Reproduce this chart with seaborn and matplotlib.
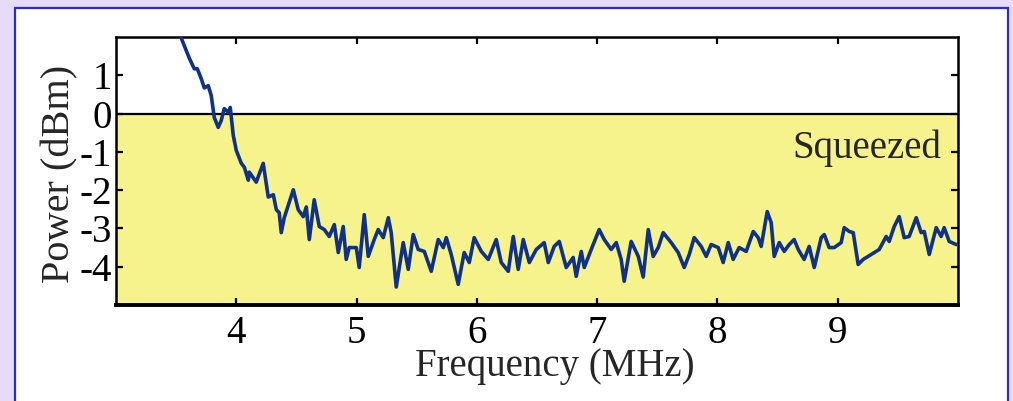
import matplotlib
matplotlib.use("Agg")
import matplotlib.pyplot as plt
from matplotlib.patches import Rectangle
import pandas as pd
import seaborn as sns

# spectrum (MHz, dBm)
freq_mhz = [
    3.52, 3.543, 3.609, 3.651, 3.676, 3.709, 3.734, 3.767, 3.792, 3.817, 3.850,
    3.875, 3.900, 3.934, 3.950, 3.975, 4.000, 4.042, 4.067, 4.100, 4.108,
    4.166, 4.224, 4.266, 4.308, 4.333, 4.357, 4.374, 4.399, 4.474, 4.515,
    4.557, 4.582, 4.607, 4.648, 4.690, 4.732, 4.773, 4.815, 4.848, 4.889,
    4.914, 4.939, 4.998, 5.022, 5.064, 5.097, 5.147, 5.180, 5.222, 5.264,
    5.288, 5.330, 5.388, 5.430, 5.471, 5.513, 5.563, 5.621, 5.679, 5.721,
    5.746, 5.787, 5.845, 5.895, 5.937, 5.978, 6.037, 6.095, 6.161, 6.203,
    6.261, 6.303, 6.344, 6.386, 6.436, 6.494, 6.560, 6.594, 6.643, 6.685,
    6.743, 6.801, 6.826, 6.868, 6.893, 6.951, 7.017, 7.059, 7.117, 7.159,
    7.200, 7.225, 7.283, 7.342, 7.383, 7.425, 7.466, 7.508, 7.549, 7.616,
    7.674, 7.724, 7.766, 7.807, 7.865, 7.907, 7.948, 8.007, 8.048, 8.090,
    8.131, 8.181, 8.239, 8.298, 8.339, 8.364, 8.414, 8.447, 8.472, 8.514,
    8.555, 8.597, 8.638, 8.672, 8.721, 8.763, 8.805, 8.863, 8.888, 8.929,
    8.971, 9.029, 9.054, 9.096, 9.129, 9.170, 9.212, 9.279, 9.345, 9.403,
    9.428, 9.470, 9.511, 9.553, 9.594, 9.653, 9.694, 9.719, 9.761, 9.819,
    9.860, 9.885, 9.927, 9.985,
]
power_dbm = [
    2.30, 1.97, 1.45, 1.17, 1.17, 0.91, 0.67, 0.73, 0.47, -0.10, -0.36,
    -0.18, 0.13, 0.03, 0.16, -0.57, -0.96, -1.30, -1.40, -1.74, -1.53,
    -1.79, -1.30, -2.18, -2.12, -2.51, -2.59, -3.11, -2.72, -1.99, -2.51,
    -2.69, -2.44, -3.29, -2.25, -2.95, -3.03, -3.21, -2.90, -3.63, -2.95,
    -3.81, -3.50, -3.50, -4.02, -2.64, -3.73, -3.29, -3.03, -3.24, -2.72,
    -3.11, -4.53, -3.37, -4.07, -3.16, -3.55, -3.60, -4.12, -3.29, -3.50,
    -3.24, -3.68, -4.46, -3.63, -3.89, -3.24, -3.60, -3.81, -3.29, -3.89,
    -4.12, -3.21, -4.07, -3.29, -3.89, -3.55, -3.37, -3.89, -3.47, -3.34,
    -4.02, -3.76, -4.25, -3.60, -4.02, -3.55, -3.03, -3.29, -3.55, -3.37,
    -3.81, -4.38, -3.34, -3.73, -4.27, -3.03, -3.73, -3.50, -3.11, -3.37,
    -3.63, -4.02, -3.68, -3.24, -3.47, -3.73, -3.42, -3.50, -3.89, -3.37,
    -3.81, -3.50, -3.60, -3.08, -3.24, -3.47, -2.56, -2.85, -3.73, -3.37,
    -3.60, -3.42, -3.29, -3.55, -3.81, -3.47, -4.02, -3.24, -3.16, -3.50,
    -3.50, -3.37, -2.98, -3.08, -3.11, -3.94, -3.81, -3.68, -3.55, -3.21,
    -3.34, -2.95, -2.69, -3.24, -3.21, -2.72, -3.11, -3.08, -3.68, -2.98,
    -3.21, -2.98, -3.34, -3.42,
]
x_ticks = [4, 5, 6, 7, 8, 9]
y_ticks = [-4, -3, -2, -1, 0, 1]

LAVENDER = "#e6dbfa"
YELLOW = "#f6f28c"
NAVY = "#0f3288"


def main():
    sns.set_theme(style="ticks")
    plt.rcParams["font.family"] = ["Liberation Serif", "DejaVu Serif"]
    plt.rcParams["axes.unicode_minus"] = False

    df = pd.DataFrame({"freq": freq_mhz, "power": power_dbm})

    fig = plt.figure(figsize=(10.13, 4.01), dpi=100, facecolor=LAVENDER)
    fig.add_artist(Rectangle((15 / 1013, -0.05), 993 / 1013, 1.05 - 8 / 401,
                             transform=fig.transFigure, facecolor="white",
                             edgecolor="#2a2ad0", lw=1.6, zorder=0))

    ax = fig.add_axes([0.1145, 0.2394, 0.8312, 0.6683])
    ax.set_facecolor("white")
    ax.axhspan(-5, 0, color=YELLOW, lw=0, zorder=0)
    ax.axhline(0, color="black", lw=1.6, zorder=1)

    sns.lineplot(data=df, x="freq", y="power", estimator=None, sort=True,
                 color=NAVY, lw=2.6, ax=ax, zorder=3)

    ax.set_xlim(3, 10)
    ax.set_ylim(-5, 2)
    ax.set_xticks(x_ticks)
    ax.set_yticks(y_ticks)
    ax.tick_params(direction="in", top=True, right=True, length=5, width=1.6,
                   labelsize=28, colors="black")
    ax.tick_params(axis="x", pad=7)
    ax.tick_params(axis="y", pad=3)
    for side, sp in ax.spines.items():
        sp.set_color("black")
        sp.set_linewidth(1.8)
    ax.spines["bottom"].set_linewidth(2.8)

    ax.set_xlabel("Frequency (MHz)", fontsize=28)
    ax.set_ylabel("Power (dBm)", fontsize=29)
    ax.xaxis.set_label_coords(0.521, -0.16)
    ax.yaxis.set_label_coords(-0.045, 0.49)

    ax.text(9.86, -0.91, "Squeezed", ha="right", va="center", fontsize=28)

    fig.savefig("out.png", dpi=100, facecolor=LAVENDER)


if __name__ == "__main__":
    main()
